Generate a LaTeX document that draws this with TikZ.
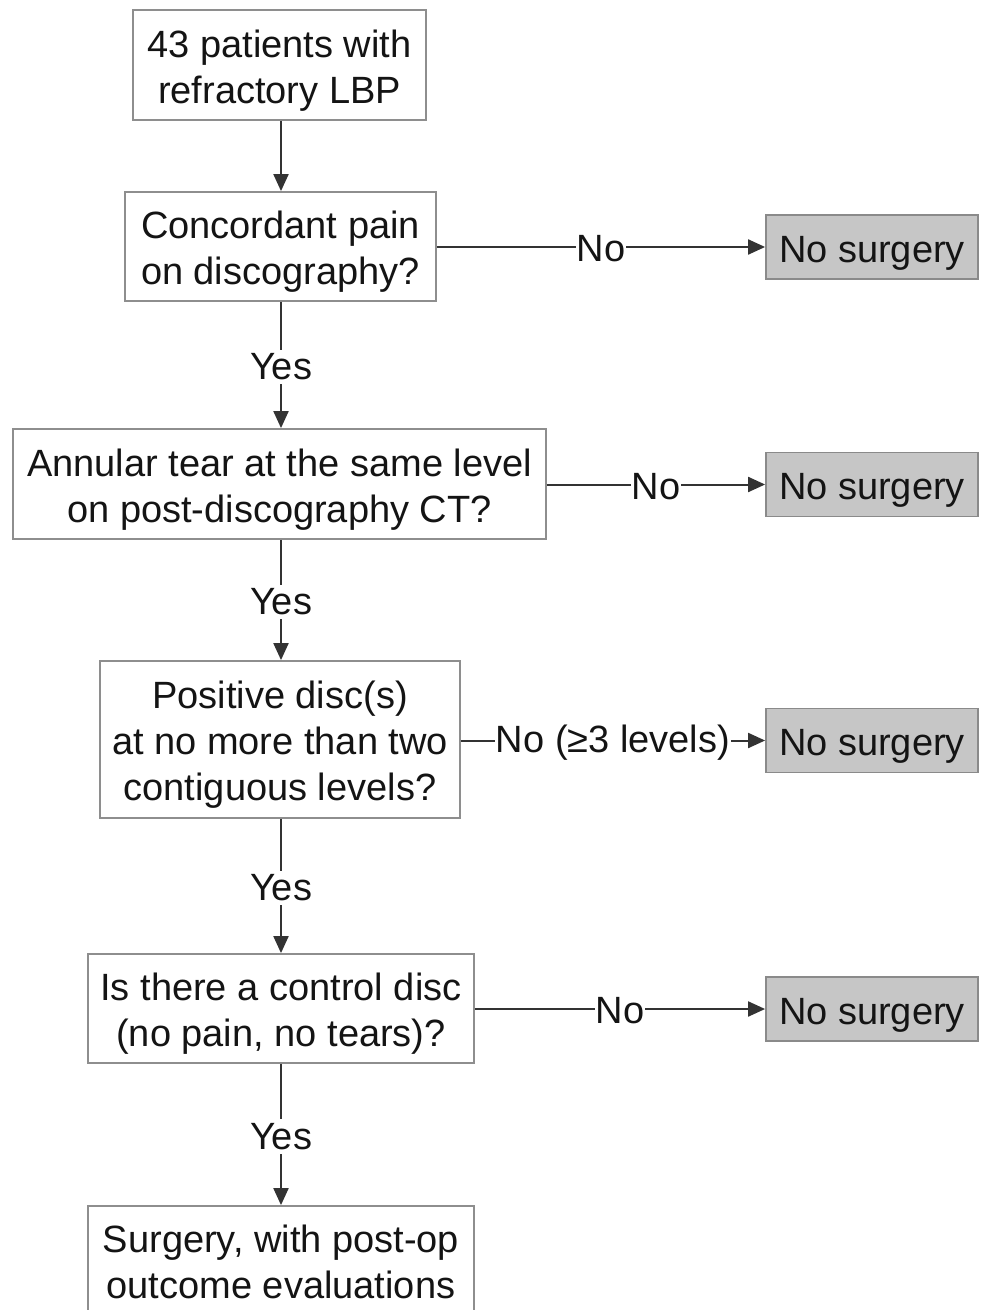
\documentclass[tikz,border=0pt]{standalone}
\usepackage{fontspec}
\setmainfont{Liberation Sans}
\usetikzlibrary{arrows.meta}
\definecolor{boxgray}{HTML}{8E8E8E}
\definecolor{nofill}{HTML}{C6C6C6}
\definecolor{nodraw}{HTML}{8A8A8A}
\definecolor{linegray}{HTML}{333333}
\definecolor{txt}{HTML}{141414}
\newcommand{\topstrut}{\rule{0pt}{19pt}}
\begin{document}
\begin{tikzpicture}[x=0.5pt,y=-0.5pt,
  box/.style={draw=boxgray, line width=0.9pt, fill=white, inner sep=0pt, align=center,
    font=\fontsize{19}{23}\selectfont, text=txt},
  nobox/.style={box, fill=nofill, draw=nodraw, minimum width=106pt, minimum height=32pt},
  lbl/.style={fill=white, inner xsep=0.5pt, inner ysep=2pt, yshift=-1pt, font=\fontsize{19}{23}\selectfont, text=txt},
  arr/.style={draw=linegray, line width=1pt, -{Triangle[length=8.5pt,width=7.5pt]}}
]
\useasboundingbox (0,0) rectangle (985,1310);
\clip (0,0) rectangle (985,1310);

\node[box, minimum width=146.5pt, minimum height=55pt] (b1) at (279.5,65) {\topstrut 43 patients with\\refractory LBP};
\node[box, minimum width=155.5pt, minimum height=54.5pt] (b2) at (280.5,246.5) {\topstrut Concordant pain\\on discography?};
\node[box, minimum width=266.5pt, minimum height=55pt] (b3) at (279.5,484) {\topstrut Annular tear at the same level\\on post-discography CT?};
\node[box, minimum width=180pt, minimum height=78.5pt] (b4) at (280,739.5) {\topstrut Positive disc(s)\\at no more than two\\contiguous levels?};
\node[box, minimum width=193pt, minimum height=54.5pt] (b5) at (281,1008.5) {\topstrut Is there a control disc\\(no pain, no tears)?};
\node[box, minimum width=193pt, minimum height=56pt] (b6) at (281,1262) {Surgery, with post-op\\outcome evaluations};

\node[nobox] (n1) at (872,247) {\topstrut No surgery};
\node[nobox] (n2) at (872,484.5) {\topstrut No surgery};
\node[nobox] (n3) at (872,740.5) {\topstrut No surgery};
\node[nobox] (n4) at (872,1009) {\topstrut No surgery};

\draw[arr] (b1.south -| 281,0) -- (b2.north -| 281,0);
\draw[arr] (b2.south -| 281,0) -- node[lbl] {Yes} (b3.north -| 281,0);
\draw[arr] (b3.south -| 281,0) -- node[lbl] {Yes} (b4.north -| 281,0);
\draw[arr] (b4.south -| 281,0) -- node[lbl] {Yes} (b5.north -| 281,0);
\draw[arr] (b5.south -| 281,0) -- node[lbl] {Yes} (b6.north -| 281,0);

\draw[arr] (b2.east |- n1.west) -- node[lbl] {No} (n1.west);
\draw[arr] (b3.east |- n2.west) -- node[lbl] {No} (n2.west);
\draw[arr] (b4.east |- n3.west) -- node[lbl] {No (≥3 levels)} (n3.west);
\draw[arr] (b5.east |- n4.west) -- node[lbl] {No} (n4.west);
\end{tikzpicture}
\end{document}
